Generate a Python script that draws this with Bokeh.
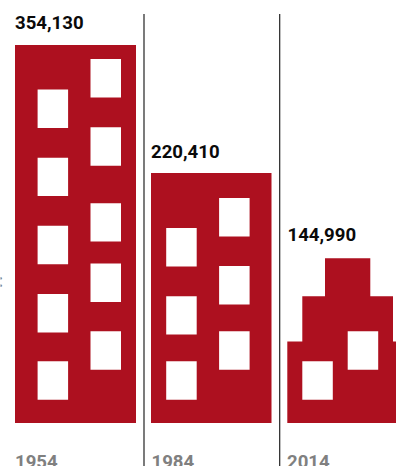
from bokeh.embed import file_html
from bokeh.models import Range1d
from bokeh.plotting import figure
from bokeh.resources import INLINE
from bokeh.core.properties import value

# Residents per census year, each drawn as a building silhouette.
years = ["1954", "1984", "2014"]
residents = [354130, 220410, 144990]

# Building footprints, in page-style units measured down from the top.
ground = 423
building_outlines = [
    [(15, 45), (136, 45), (136, ground), (15, ground)],
    [(151, 173), (271.5, 173), (271.5, ground), (151, ground)],
    [(287.3, ground), (287.3, 341.5), (302.3, 341.5), (302.3, 296.3), (325, 296.3), (325, 258.3),
     (370.3, 258.3), (370.3, 296.3), (393, 296.3), (393, 341.5), (410, 341.5), (410, ground)],
]

# Window rows per column: (left edge, top edges).
window_width = 30.5
window_height = 38.4
window_columns = [
    (37.6, [89.5, 157.7, 225.8, 294, 361.3]),
    (90.5, [59, 127.3, 203.2, 263.5, 331.3]),
    (166.2, [228, 296.2, 361.3]),
    (219.1, [198, 266, 331.3]),
    (302.3, [361.3]),
    (347.7, [331.3]),
]

label_x = [15, 151, 287.5]
value_label_y = [22.7, 151.7, 234.7]
year_label_x = [15, 151.5, 287]
year_label_y = 461.5
divider_x = [144, 279.7]

RED = "#ad101f"

p = figure(width=396, height=466, output_backend="svg", toolbar_location=None,
           x_range=Range1d(0.5, 396.5), y_range=Range1d(466.5, 0.5),
           min_border=0, outline_line_color=None)
p.axis.visible = False
p.grid.visible = False

for outline in building_outlines:
    p.patch([c[0] for c in outline], [c[1] for c in outline], fill_color=RED, line_color=None)

for left, tops in window_columns:
    p.quad(left=left, right=left + window_width,
           top=tops, bottom=[t + window_height for t in tops],
           fill_color="white", line_color=None)

for x in divider_x:
    p.line([x, x], [14, 467], line_color="#222222", line_width=1.2)

p.text(x=label_x, y=value_label_y, text=[f"{v:,}" for v in residents],
       text_font=value("Roboto"), text_font_style="bold", text_font_size="18.6px",
       text_color="#0a0a0a", text_baseline="middle")

p.text(x=year_label_x, y=[year_label_y] * 3, text=years,
       text_font=value("Roboto"), text_font_style="bold", text_font_size="18.6px",
       text_color="#808080", text_baseline="middle")

# Tail of a caption running in from the left margin.
p.text(x=[-2], y=[280], text=[":"],
       text_font=value("Roboto"), text_font_style="bold", text_font_size="18px",
       text_color="#808080", text_baseline="middle")

open("out.html", "w").write(file_html(p, INLINE))
